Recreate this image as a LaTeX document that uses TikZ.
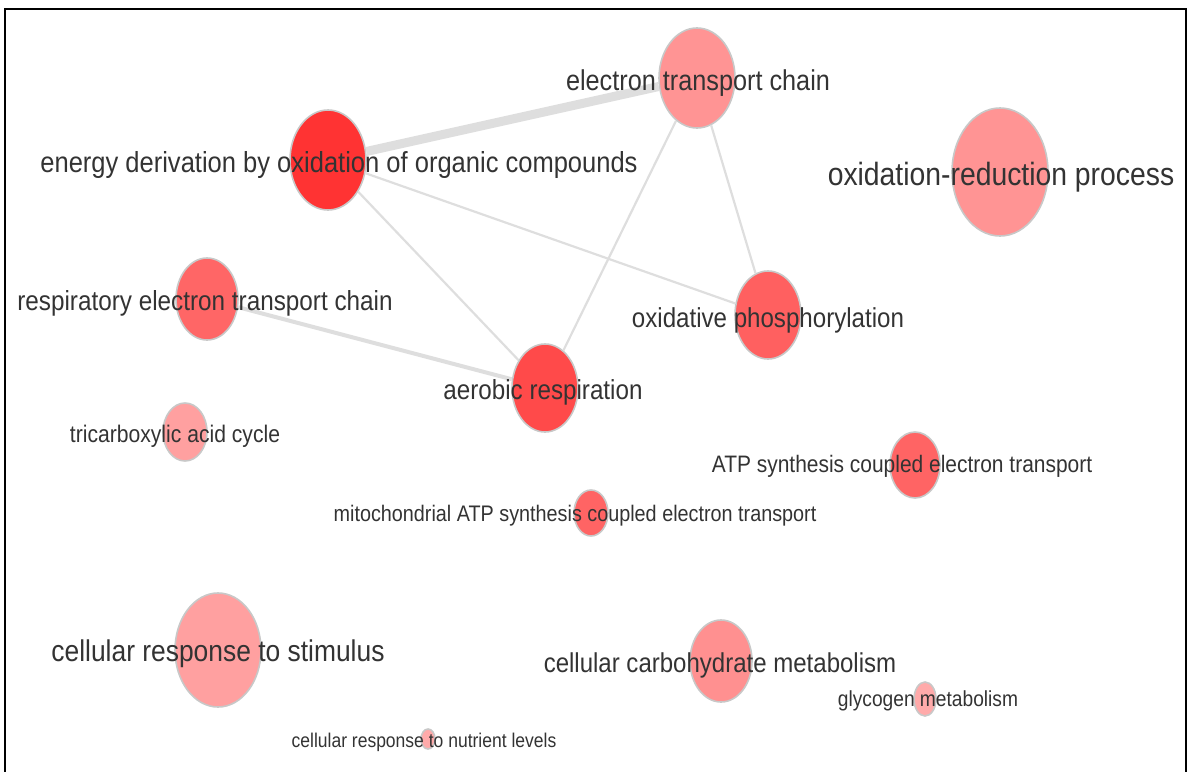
\documentclass[tikz,border=0pt]{standalone}
\usepackage{fontspec}
\usepackage{xcolor}
\usepackage{tikz}
\usetikzlibrary{shapes.geometric}
\newfontfamily\gephifont[FakeStretch=0.88]{Liberation Sans}
\definecolor{edgegray}{HTML}{DEDEDE}
\definecolor{rimgray}{HTML}{C8C8C8}
\definecolor{labelgray}{HTML}{333333}

\begin{document}
\begin{tikzpicture}[x=1pt, y=-1pt,
    term/.style={shape=ellipse, draw=rimgray, line width=1.6pt, inner sep=0pt},
    lbl/.style={font={\gephifont\fontsize{#1}{#1}\selectfont}, text=labelgray, inner sep=0pt, anchor=center, yshift=-3pt},
    link/.style={draw=edgegray, line width=#1}]
            \useasboundingbox (0,0) rectangle (1193,771);
            \draw[line width=1.8pt, black] (5,790) -- (5,9) -- (1186,9) -- (1186,790);

            \node[term, fill={rgb,255:red,255;green,51;blue,51}, minimum width=76pt, minimum height=100pt] (EDO) at (328, 160) {};
            \node[term, fill={rgb,255:red,255;green,148;blue,148}, minimum width=76pt, minimum height=100pt] (ETC) at (697, 78) {};
            \node[term, fill={rgb,255:red,255;green,148;blue,148}, minimum width=96pt, minimum height=128pt] (ORP) at (1000, 172) {};
            \node[term, fill={rgb,255:red,255;green,102;blue,102}, minimum width=62pt, minimum height=82pt] (RETC) at (207, 299) {};
            \node[term, fill={rgb,255:red,255;green,96;blue,96}, minimum width=66pt, minimum height=88pt] (OXP) at (768, 315) {};
            \node[term, fill={rgb,255:red,255;green,74;blue,74}, minimum width=66pt, minimum height=88pt] (AER) at (545, 388) {};
            \node[term, fill={rgb,255:red,255;green,160;blue,160}, minimum width=44pt, minimum height=58pt] (TCA) at (185, 432) {};
            \node[term, fill={rgb,255:red,255;green,100;blue,100}, minimum width=50pt, minimum height=66pt] (ATP) at (915, 465) {};
            \node[term, fill={rgb,255:red,255;green,100;blue,100}, minimum width=34pt, minimum height=46pt] (MIT) at (591, 513) {};
            \node[term, fill={rgb,255:red,255;green,160;blue,160}, minimum width=86pt, minimum height=114pt] (CRS) at (218, 650) {};
            \node[term, fill={rgb,255:red,255;green,144;blue,144}, minimum width=62pt, minimum height=82pt] (CCM) at (721, 661) {};
            \node[term, fill={rgb,255:red,255;green,170;blue,170}, minimum width=22pt, minimum height=34pt] (GLY) at (925, 699) {};
            \node[term, fill={rgb,255:red,255;green,170;blue,170}, minimum width=14pt, minimum height=20pt] (CRN) at (428, 739) {};

            \path [link=9pt] (EDO) edge (ETC);
            \path [link=2.2pt] (EDO) edge (OXP);
            \path [link=2.2pt] (EDO) edge (AER);
            \path [link=2.2pt] (ETC) edge (AER);
            \path [link=2.2pt] (ETC) edge (OXP);
            \path [link=4pt] (RETC) edge (AER);

            \node[lbl=29] (EDOtext) at (339, 162) {energy derivation by oxidation of organic compounds};
            \node[lbl=28.7] (ETCtext) at (698, 80) {electron transport chain};
            \node[lbl=32.2] (ORPtext) at (1001, 174) {oxidation-reduction process};
            \node[lbl=27.6] (RETCtext) at (205, 300) {respiratory electron transport chain};
            \node[lbl=27.4] (OXPtext) at (768, 317) {oxidative phosphorylation};
            \node[lbl=27.5] (AERtext) at (543, 389) {aerobic respiration};
            \node[lbl=24] (TCAtext) at (175, 433) {tricarboxylic acid cycle};
            \node[lbl=23.8] (ATPtext) at (902, 463) {ATP synthesis coupled electron transport};
            \node[lbl=22.5] (MITtext) at (575, 513) {mitochondrial ATP synthesis coupled electron transport};
            \node[lbl=30] (CRStext) at (218, 651) {cellular response to stimulus};
            \node[lbl=27.3] (CCMtext) at (720, 662) {cellular carbohydrate metabolism};
            \node[lbl=21.8] (GLYtext) at (928, 698) {glycogen metabolism};
            \node[lbl=19.9] (CRNtext) at (424, 739) {cellular response to nutrient levels};
        \end{tikzpicture}
\end{document}
